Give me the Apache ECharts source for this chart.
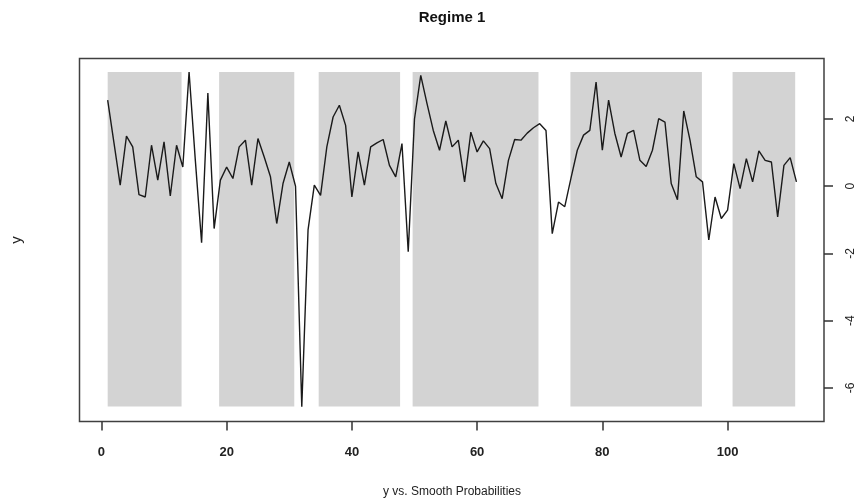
<!DOCTYPE html>
<html>
<head>
    <meta charset="utf-8">
    <title>Regime 1</title>
    <script src="https://cdn.jsdelivr.net/npm/echarts@6.0.0/dist/echarts.min.js"></script>
    <style>
        html, body { margin: 0; padding: 0; background: #fff; }
        #main { width: 857px; height: 501px; }
    </style>
</head>
<body>
<div id="main"></div>
<script>
    // observed series, x = 1..111
    const yValues = [
        2.56, 1.3, 0.03, 1.49, 1.17, -0.25, -0.32, 1.22, 0.18, 1.32,
        -0.29, 1.22, 0.57, 3.40, 0.77, -1.68, 2.77, -1.26, 0.18, 0.57,
        0.23, 1.17, 1.37, 0.03, 1.42, 0.87, 0.28, -1.11, 0.08, 0.72,
        0.0, -6.56, -1.3, 0.03, -0.27, 1.17, 2.06, 2.41, 1.81, -0.32,
        1.02, 0.03, 1.17, 1.29, 1.39, 0.62, 0.28, 1.27, -1.95, 2.0,
        3.30, 2.46, 1.66, 1.07, 1.94, 1.17, 1.37, 0.13, 1.61, 1.02,
        1.35, 1.12, 0.08, -0.37, 0.77, 1.39, 1.37, 1.58, 1.74, 1.86,
        1.66, -1.41, -0.47, -0.61, 0.25, 1.07, 1.52, 1.66, 3.10, 1.07,
        2.56, 1.57, 0.87, 1.57, 1.66, 0.77, 0.59, 1.07, 2.01, 1.91,
        0.08, -0.40, 2.24, 1.37, 0.28, 0.13, -1.60, -0.32, -0.96, -0.71,
        0.67, -0.07, 0.82, 0.13, 1.05, 0.77, 0.72, -0.91, 0.62, 0.85,
        0.13
    ];

    // shaded regime-1 periods (smoothed prob > 0.5)
    const regimeStart = [1, 18.8, 34.7, 49.7, 74.9, 100.8];
    const regimeEnd = [12.8, 30.8, 47.7, 69.8, 95.9, 110.8];
    const bandTop = 3.40;
    const bandBottom = -6.55;

    const xTicks = [0, 20, 40, 60, 80, 100];
    const yTicks = [-6, -4, -2, 0, 2];

    const lineData = yValues.map((v, i) => [i + 1, v]);
    const bands = regimeStart.map((s, i) => [
        {xAxis: s, yAxis: bandTop},
        {xAxis: regimeEnd[i], yAxis: bandBottom}
    ]);

    const font = 'Liberation Sans, Arial, sans-serif';
    const chart = echarts.init(document.getElementById('main'));

    chart.setOption({
        animation: false,
        grid: {
            left: 79.5, right: 32, top: 58.5, bottom: 79.5,
            show: true, borderColor: '#404040', borderWidth: 1.5,
            backgroundColor: 'transparent'
        },
        xAxis: {
            type: 'value', min: -3.5, max: 115.4,
            splitLine: {show: false},
            axisLine: {show: false, onZero: false},
            axisTick: {show: true, inside: false, length: 9, lineStyle: {color: '#333', width: 1.5}, customValues: xTicks},
            axisLabel: {
                customValues: xTicks, margin: 24, color: '#222',
                fontFamily: font, fontSize: 13, fontWeight: 'bold', verticalAlign: 'top'
            }
        },
        yAxis: {
            type: 'value', position: 'right', min: -7.0, max: 3.8,
            splitLine: {show: false},
            axisLine: {show: false, onZero: false},
            axisTick: {show: true, inside: false, length: 9, lineStyle: {color: '#333', width: 1.5}, customValues: yTicks},
            axisLabel: {
                customValues: yTicks, margin: 21, rotate: 90, color: '#222',
                fontFamily: font, fontSize: 12
            }
        },
        graphic: [
            {type: 'text', x: 452, y: 18, style: {text: 'Regime 1', fontFamily: font, fontSize: 15, fontWeight: 'bold', fill: '#111', align: 'center', verticalAlign: 'middle'}},
            {type: 'text', x: 452, y: 492, style: {text: 'y vs. Smooth Probabilities', fontFamily: font, fontSize: 12, fill: '#222', align: 'center', verticalAlign: 'middle'}},
            {type: 'text', x: 17, y: 240, rotation: Math.PI / 2, style: {text: 'y', fontFamily: font, fontSize: 15, fill: '#222', align: 'center', verticalAlign: 'middle'}}
        ],
        series: [
            {
                type: 'line', data: [], z: 1, silent: true,
                markArea: {
                    silent: true,
                    itemStyle: {color: '#d3d3d3'},
                    data: bands
                }
            },
            {
                type: 'line', data: lineData, z: 3,
                showSymbol: false, symbol: 'none',
                lineStyle: {color: '#1a1a1a', width: 1.4}
            }
        ]
    });
</script>
</body>
</html>
